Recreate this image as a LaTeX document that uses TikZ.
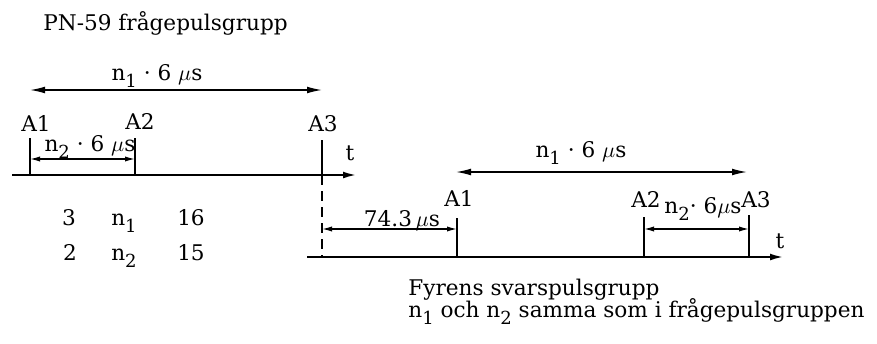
\documentclass[tikz,border=0pt]{standalone}
\usepackage{fontspec}
\setmainfont{DejaVu Serif}
\usetikzlibrary{arrows.meta}
\newcommand\sbs[1]{\raisebox{-0.7ex}{\small #1}}
\begin{document}
\begin{tikzpicture}[x=0.5pt,y=-0.5pt,
  lbl/.style={inner sep=0pt, anchor=base, font=\fontsize{10.8}{13}\selectfont},
  lblw/.style={inner sep=0pt, anchor=base west, font=\fontsize{10.8}{13}\selectfont},
  axis/.style={line width=1.1pt, -{Latex[length=7pt,width=3.4pt]}},
  pulse/.style={line width=1.1pt},
  dim/.style={line width=0.7pt, {Latex[length=7.5pt,width=3.4pt]}-{Latex[length=7.5pt,width=3.4pt]}},
  sdim/.style={line width=0.7pt, {Latex[length=5pt,width=2.6pt]}-{Latex[length=5pt,width=2.6pt]}}]
\useasboundingbox (0,0) rectangle (877,343);
% ---------- first group ----------
\node[lblw] (title) at (43,30) {PN-59 frågepulsgrupp};
\coordinate (ax1s) at (12,175);
\coordinate (ax1e) at (357,175);
\draw[axis] (ax1s) -- (ax1e);
\node[lbl] (t1) at (350,160) {t};
\coordinate (p1b) at (30,175); \coordinate (p1t) at (30,138);
\coordinate (p2b) at (135,175); \coordinate (p2t) at (135,138);
\coordinate (p3b) at (322,175); \coordinate (p3t) at (322,140);
\draw[pulse] (p1b) -- (p1t);
\draw[pulse] (p2b) -- (p2t);
\draw[pulse] (p3b) -- (p3t);
\node[lbl] (a1) at (36,131) {A1};
\node[lbl] (a2) at (140,129) {A2};
\node[lbl] (a3) at (323,131) {A3};
\coordinate (top1l) at (30,90); \coordinate (top1r) at (322,90);
\draw[dim] (top1l) -- (top1r);
\node[lbl] (n1a) at (157,80) {n\sbs{1} · 6 $\mu$s};
\coordinate (d1l) at (30,159); \coordinate (d1r) at (135,159);
\draw[sdim] (d1l) -- (d1r);
\node[lbl] (n2a) at (90,151) {n\sbs{2} · 6 $\mu$s};
% table
\node[lbl] (r1a) at (69,225) {3};
\node[lbl] (r1b) at (124,225) {n\sbs{1}};
\node[lbl] (r1c) at (191,225) {16};
\node[lbl] (r2a) at (70,260) {2};
\node[lbl] (r2b) at (124,260) {n\sbs{2}};
\node[lbl] (r2c) at (191,260) {15};
% ---------- second group ----------
\coordinate (ax2s) at (307,257);
\coordinate (ax2e) at (784,257);
\coordinate (dsh) at (322,257);
\draw[line width=0.6pt, dash pattern=on 5pt off 3pt] (p3b) -- (dsh);
\draw[axis] (ax2s) -- (ax2e);
\node[lbl] (t2) at (780,248) {t};
\coordinate (q1b) at (457,257); \coordinate (q1t) at (457,218);
\coordinate (q2b) at (644,257); \coordinate (q2t) at (644,217);
\coordinate (q3b) at (749,257); \coordinate (q3t) at (749,215);
\draw[pulse] (q1b) -- (q1t);
\draw[pulse] (q2b) -- (q2t);
\draw[pulse] (q3b) -- (q3t);
\node[lbl] (b1) at (459,206) {A1};
\node[lbl] (b2) at (646,207) {A2};
\node[lbl] (b3) at (756,207) {A3};
\coordinate (top2l) at (456,172); \coordinate (top2r) at (747,172);
\draw[dim] (top2l) -- (top2r);
\node[lbl] (n1b) at (581,157) {n\sbs{1} · 6 $\mu$s};
\coordinate (e1l) at (322,229); \coordinate (e1r) at (457,229);
\draw[sdim] (e1l) -- (e1r);
\node[lbl] (d743) at (402,226) {74.3$\,\mu$s};
\coordinate (f1l) at (644,229); \coordinate (f1r) at (749,229);
\draw[sdim] (f1l) -- (f1r);
\node[lbl] (n2b) at (703,213) {n\sbs{2}· 6$\mu$s};
\node[lblw] (cap1) at (408,295) {Fyrens svarspulsgrupp};
\node[lblw] (cap2) at (408,317) {n\sbs{1} och n\sbs{2} samma som i frågepulsgruppen};
\end{tikzpicture}
\end{document}
